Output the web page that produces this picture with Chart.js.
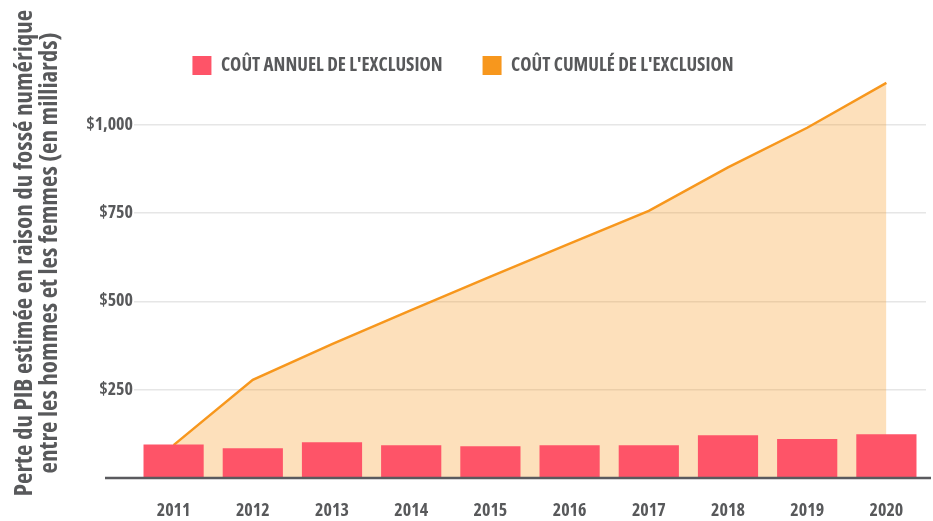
<!DOCTYPE html>
<html>
<head>
<meta charset="utf-8">
<script src="https://cdn.jsdelivr.net/npm/chart.js@4.4.1/dist/chart.umd.min.js"></script>
<style>
  html, body { margin: 0; padding: 0; background: #fff; }
  #wrap { width: 933px; height: 521px; }
</style>
</head>
<body>
<div id="wrap"><canvas id="chart"></canvas></div>
<script>
// données (milliards $)
const years = ["2011", "2012", "2013", "2014", "2015", "2016", "2017", "2018", "2019", "2020"];
const annualCost = [95, 84, 101, 93, 90, 93, 93, 121, 110, 124];
const cumulativeCost = [93, 278, 379, 475, 570, 663, 756, 879, 991, 1118];
const yTickValues = [250, 500, 750, 1000];
const yTitle = ["Perte du PIB estimée en raison du fossé numérique", "entre les hommes et les femmes (en milliards)"];

const FONT = "'Open Sans', 'DejaVu Sans Condensed', sans-serif";
const WEIGHT = "bold condensed"; // passe font-stretch dans la chaîne ctx.font
const GREY = "#58595b";

// titre de l'axe Y (placé plus haut que le centre de l'axe) + ligne de base
const extras = {
    id: "extras",
    afterDraw(chart) {
        const ctx = chart.ctx;
        ctx.save();
        ctx.translate(37, 253);
        ctx.rotate(-Math.PI / 2);
        ctx.font = WEIGHT + " 25px " + FONT;
        ctx.fillStyle = GREY;
        ctx.textAlign = "center";
        ctx.textBaseline = "middle";
        ctx.fillText(yTitle[0], 0, -12.5);
        ctx.fillText(yTitle[1], 0, 12.5);
        ctx.restore();
    },
    afterDatasetsDraw(chart) {
        const y = chart.scales.y.getPixelForValue(0);
        const ctx = chart.ctx;
        ctx.save();
        ctx.strokeStyle = "#5a5a5e";
        ctx.lineWidth = 2.5;
        ctx.beginPath();
        ctx.moveTo(105, y);
        ctx.lineTo(chart.chartArea.right + 5, y);
        ctx.stroke();
        ctx.restore();
    }
};

const ctx = document.getElementById("chart").getContext("2d");
new Chart(ctx, {
    data: {
        labels: years,
        datasets: [
            {
                type: "bar",
                label: "COÛT ANNUEL DE L'EXCLUSION",
                data: annualCost,
                backgroundColor: "#fe5468",
                borderWidth: 0,
                categoryPercentage: 1,
                barPercentage: 0.76
            },
            {
                type: "line",
                label: "COÛT CUMULÉ DE L'EXCLUSION",
                data: cumulativeCost,
                borderColor: "#f7971d",
                backgroundColor: "rgba(247, 151, 29, 0.3)",
                borderWidth: 2.5,
                pointRadius: 0,
                tension: 0,
                fill: "origin",
                clip: false
            }
        ]
    },
    options: {
        responsive: true,
        maintainAspectRatio: false,
        animation: false,
        layout: { padding: { left: 0, right: 7, top: 16, bottom: 0 } },
        plugins: {
            tooltip: { enabled: false },
            legend: {
                position: "top",
                labels: {
                    color: GREY,
                    font: { family: FONT, size: 19, weight: WEIGHT },
                    boxWidth: 19,
                    boxHeight: 19,
                    padding: 40,
                    generateLabels(chart) {
                        return chart.data.datasets.map((ds, i) => ({
                            text: ds.label,
                            fillStyle: i === 0 ? "#fe5468" : "#f7971d",
                            strokeStyle: "transparent",
                            lineWidth: 0,
                            datasetIndex: i,
                            fontColor: GREY
                        }));
                    }
                }
            }
        },
        scales: {
            x: {
                afterFit(scale) {
                    scale.height = 43;
                },
                grid: { display: false, drawTicks: false },
                border: { display: false },
                ticks: {
                    color: GREY,
                    font: { family: FONT, size: 18, weight: WEIGHT },
                    padding: 22
                }
            },
            y: {
                min: 0,
                max: 1112,
                afterBuildTicks(scale) {
                    scale.ticks = yTickValues.map(v => ({ value: v }));
                },
                afterFit(scale) {
                    scale.width = 134;
                },
                grid: {
                    color: "#e6e6e6",
                    lineWidth: 1.5,
                    drawTicks: false
                },
                border: { display: false },
                ticks: {
                    color: GREY,
                    padding: 1,
                    font: { family: FONT, size: 18, weight: WEIGHT },
                    callback: v => "$" + v.toLocaleString("en-US")
                }
            }
        }
    },
    plugins: [extras]
});
</script>
</body>
</html>
